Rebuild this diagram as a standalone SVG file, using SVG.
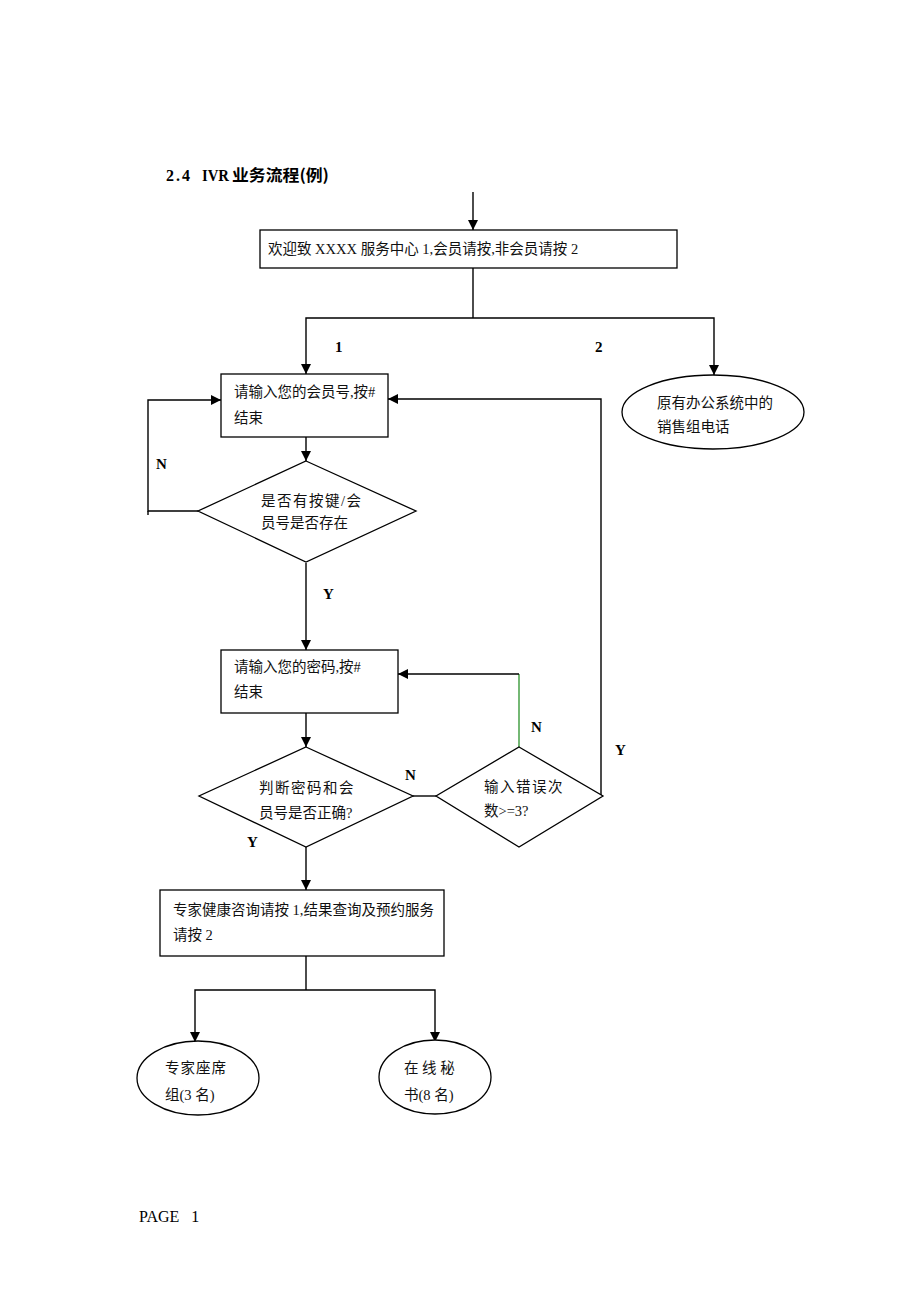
<svg xmlns="http://www.w3.org/2000/svg" width="920" height="1302" viewBox="0 0 920 1302">
<defs>
<marker id="ah" markerWidth="10" markerHeight="10" refX="10" refY="5" orient="auto" markerUnits="userSpaceOnUse">
<path d="M0,0 L10,5 L0,10 Z" fill="#000"/>
</marker>
<style>
.box{fill:#fff;stroke:#000;stroke-width:1.3}
.t{font-family:"Liberation Serif","Noto Sans CJK SC",serif;font-size:14.5px;fill:#111}
.lbl{font-family:"Liberation Serif","Noto Sans CJK SC",serif;font-size:15px;font-weight:bold;fill:#000}
.ln{fill:none;stroke:#000;stroke-width:1.4}
.arr{fill:none;stroke:#000;stroke-width:1.4;marker-end:url(#ah)}
.ttl{font-family:"Liberation Serif","Noto Sans CJK SC",serif;font-size:16px;font-weight:bold;fill:#000}
</style>
</defs>
<rect width="920" height="1302" fill="#fff"/>
<g id="title">
<text class="ttl" x="166" y="181" textLength="24" lengthAdjust="spacing">2.4</text>
<text class="ttl" x="202" y="181" textLength="27" lengthAdjust="spacingAndGlyphs">IVR</text>
<text class="ttl" x="232" y="181" style="font-family:'Noto Sans CJK SC',sans-serif" textLength="97" lengthAdjust="spacingAndGlyphs">业务流程(例)</text>
</g>

<g id="connectors">
<line class="arr" x1="473" y1="192" x2="473" y2="230"/>
<polyline class="ln" points="473,268 473,318"/>
<polyline class="arr" points="473,318 306,318 306,374"/>
<polyline class="arr" points="473,318 714,318 714,375"/>
<line class="arr" x1="306" y1="437" x2="306" y2="461"/>
<polyline class="arr" points="198,511 148,511 148,400 221,400"/>
<line class="ln" x1="148" y1="511" x2="148" y2="515"/>
<line class="arr" x1="306" y1="563" x2="306" y2="650"/>
<line class="arr" x1="306" y1="713" x2="306" y2="747"/>
<line class="ln" x1="413" y1="796" x2="436" y2="796"/>
<line x1="519" y1="747" x2="519" y2="674" stroke="#3a9a3a" stroke-width="1.4"/>
<polyline class="arr" points="519,674 398,674"/>
<polyline class="arr" points="603,796 601,796 601,399 388,399"/>
<line class="arr" x1="306" y1="847" x2="306" y2="890"/>
<line class="ln" x1="306" y1="956" x2="306" y2="990"/>
<polyline class="arr" points="306,990 195,990 195,1042"/>
<polyline class="arr" points="306,990 435,990 435,1042"/>
<text class="lbl" x="335" y="352">1</text>
<text class="lbl" x="595" y="352">2</text>
<text class="lbl" x="156" y="469">N</text>
<text class="lbl" x="323" y="599">Y</text>
<text class="lbl" x="405" y="780">N</text>
<text class="lbl" x="531" y="732">N</text>
<text class="lbl" x="615" y="755">Y</text>
<text class="lbl" x="247" y="847">Y</text>
</g>

<g id="welcome">
<rect class="box" x="260" y="230" width="417" height="38"/>
<text class="t" x="268" y="254">欢迎致 XXXX 服务中心 1,会员请按,非会员请按 2</text>
</g>
<g id="member-no">
<rect class="box" x="221" y="374" width="167" height="63"/>
<text class="t" x="234" y="397">请输入您的会员号,按#</text>
<text class="t" x="234" y="423">结束</text>
</g>
<g id="sales">
<ellipse class="box" cx="713" cy="412" rx="91" ry="37"/>
<text class="t" x="657" y="408">原有办公系统中的</text>
<text class="t" x="657" y="432">销售组电话</text>
</g>
<g id="check-member">
<polygon class="box" points="306,461 416,511 306,562 198,511"/>
<text class="t" x="261" y="506" letter-spacing="1.5">是否有按键/会</text>
<text class="t" x="261" y="528">员号是否存在</text>
</g>
<g id="password">
<rect class="box" x="221" y="650" width="177" height="63"/>
<text class="t" x="234" y="672">请输入您的密码,按#</text>
<text class="t" x="234" y="697">结束</text>
</g>
<g id="check-password">
<polygon class="box" points="306,747 413,796 306,847 199,796"/>
<text class="t" x="259" y="793" letter-spacing="1.5">判断密码和会</text>
<text class="t" x="259" y="818">员号是否正确?</text>
</g>
<g id="error-count">
<polygon class="box" points="519,747 603,796 519,847 436,796"/>
<text class="t" x="484" y="792" letter-spacing="1.5">输入错误次</text>
<text class="t" x="484" y="816">数&gt;=3?</text>
</g>
<g id="menu">
<rect class="box" x="160" y="890" width="284" height="66"/>
<text class="t" x="173" y="915">专家健康咨询请按 1,结果查询及预约服务</text>
<text class="t" x="173" y="940">请按 2</text>
</g>
<g id="experts">
<ellipse class="box" cx="198" cy="1078" rx="61" ry="37"/>
<text class="t" x="165" y="1073" letter-spacing="1">专家座席</text>
<text class="t" x="165" y="1100">组(3 名)</text>
</g>
<g id="secretary">
<ellipse class="box" cx="435" cy="1077" rx="56" ry="37"/>
<text class="t" x="404" y="1073" xml:space="preserve">在 线 秘</text>
<text class="t" x="404" y="1100">书(8 名)</text>
</g>
<text x="139" y="1222" style="font-family:'Liberation Serif',serif;font-size:16px" xml:space="preserve">PAGE   1</text>
</svg>
